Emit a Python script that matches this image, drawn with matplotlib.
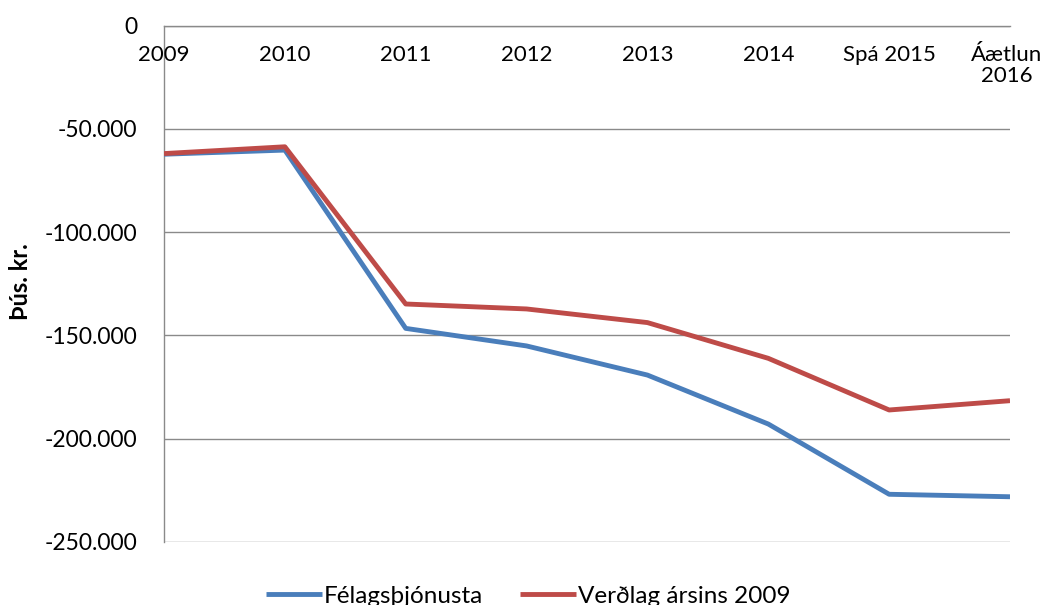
import matplotlib
matplotlib.use("Agg")
import matplotlib.pyplot as plt
import matplotlib.transforms as mtransforms
from matplotlib.ticker import FuncFormatter

categories = ["2009", "2010", "2011", "2012", "2013", "2014", "Spá 2015", "Áætlun\n2016"]
felagsthjonusta = [-62300, -60300, -146600, -155100, -169200, -192900, -226900, -228100]
verdlag_2009 = [-62000, -58700, -134800, -137200, -143800, -161100, -186100, -181600]
series_names = ["Félagsþjónusta", "Verðlag ársins 2009"]
y_label = "Þús. kr."
y_ticks = [0, -50000, -100000, -150000, -200000, -250000]

plt.rcParams['font.family'] = ['Lato', 'DejaVu Sans']

fig = plt.figure(figsize=(10.5, 6.05), dpi=100)
ax = fig.add_axes([164/1050, 1-542/605, (1010-164)/1050, (542-25.5)/605])

x = list(range(len(categories)))
ax.plot(x, felagsthjonusta, color="#4A7EBB", lw=3.5, label=series_names[0], solid_capstyle='butt', zorder=3)
ax.plot(x, verdlag_2009, color="#BE4B48", lw=3.5, label=series_names[1], solid_capstyle='butt', zorder=3)

ax.set_xlim(0, len(categories) - 1)
ax.set_ylim(-250000, 0)
ax.set_yticks(y_ticks)

def fmt(v, pos):
    if v == 0:
        return "0"
    s = f"{abs(int(round(v))):,}".replace(",", ".")
    return ("-" if v < 0 else "") + s

ax.yaxis.set_major_formatter(FuncFormatter(fmt))
ax.grid(axis='y', color="#8a8a8a", lw=1.0, zorder=0)
ax.set_axisbelow(True)
for s in ["right", "bottom"]:
    ax.spines[s].set_visible(False)
ax.spines["left"].set_color("#8a8a8a")
ax.spines["top"].set_color("#8a8a8a")
ax.spines["left"].set_linewidth(1.0)
ax.spines["top"].set_linewidth(1.0)
ax.tick_params(axis='y', length=0, labelsize=16.5, pad=19)
ax.tick_params(axis='x', length=0, labelbottom=False, labeltop=False)
ax.set_xticks(x)

trans = mtransforms.blended_transform_factory(ax.transData, ax.transAxes)
for i, c in enumerate(categories):
    if i == len(categories) - 1:
        ax.text(i - 0.03, 1 - (45 - 25.5)/516.5, c, transform=trans, ha='center', va='top',
                fontsize=16, linespacing=1.05)
    else:
        ax.text(i, 1 - (45 - 25.5)/516.5, c, transform=trans, ha='center', va='top', fontsize=16)

fig.text(21/1050, 1 - 282/605, y_label, rotation=90, ha='center', va='center',
         fontsize=17, fontweight='bold')

fig.legend(loc='center', bbox_to_anchor=(0.503, 1 - 596/605), ncol=2, frameon=False,
           fontsize=17.5, handlelength=2.3, columnspacing=1.5, handletextpad=0.08)

fig.savefig("out.png", dpi=100)
